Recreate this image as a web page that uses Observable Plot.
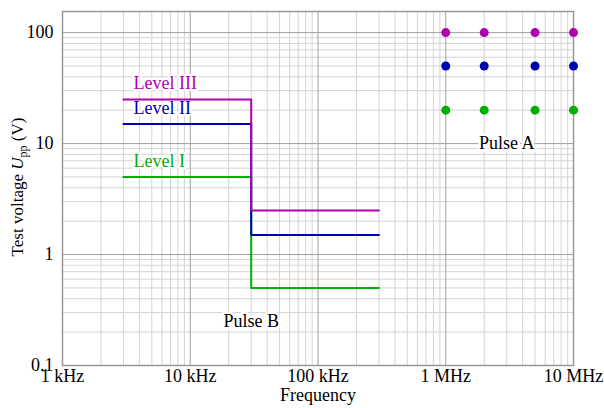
<!DOCTYPE html>
<html>
<head>
<meta charset="utf-8">
<script src="https://cdn.jsdelivr.net/npm/d3@7"></script>
<script src="https://cdn.jsdelivr.net/npm/@observablehq/plot@0.6"></script>
<style>
  html, body { margin: 0; padding: 0; background: #fff; }
  svg text { font-family: "Liberation Serif", "Times New Roman", serif; }
</style>
</head>
<body>
<div id="chart"></div>
<script>
// ---- data ----
const xTicks = [1e3, 1e4, 1e5, 1e6, 1e7];
const xTickLabels = ["1 kHz", "10 kHz", "100 kHz", "1 MHz", "10 MHz"];
const yTicks = [0.1, 1, 10, 100];
const yTickLabels = ["0.1", "1", "10", "100"];

const levels = ["Level I", "Level II", "Level III"];
const levelColors = ["#00b000", "#0000b0", "#b000b0"];

// Pulse B: step profile (frequency breakpoints, high and low voltages per level)
const pulseBStart = 3e3;
const pulseBStep = 3e4;
const pulseBEnd = 3e5;
const pulseBHigh = [5, 15, 25];
const pulseBLow = [0.5, 1.5, 2.5];

// Pulse A: discrete test points
const pulseAFreq = [1e6, 2e6, 5e6, 1e7];
const pulseAVolt = [20, 50, 100];

// annotation anchors (data coordinates)
const levelLabelFreq = 3600;
const levelLabelVolt = [6.9, 21, 34.7];
const pulseLabels = [
  {text: "Pulse A", f: 3e6, v: 10},
  {text: "Pulse B", f: 3e4, v: 0.25}
];

// ---- derived tables ----
const stepRows = levels.flatMap((lv, i) => [
  {level: lv, i, f: pulseBStart, v: pulseBHigh[i]},
  {level: lv, i, f: pulseBStep, v: pulseBHigh[i]},
  {level: lv, i, f: pulseBStep, v: pulseBLow[i]},
  {level: lv, i, f: pulseBEnd, v: pulseBLow[i]}
]);
const dotRows = levels.flatMap((lv, i) => pulseAFreq.map(f => ({level: lv, i, f, v: pulseAVolt[i]})));
const labelRows = levels.map((lv, i) => ({text: lv, i, f: levelLabelFreq, v: levelLabelVolt[i]}));

const minorX = [];
for (let d = 1e3; d < 1e7; d *= 10) for (let k = 2; k <= 9; k++) minorX.push(d * k);
const minorY = [];
for (let d = 0.1; d < 150; d *= 10) for (let k = 2; k <= 9; k++) if (d * k <= 155) minorY.push(d * k);

const colorOf = i => levelColors[i];
const xFmt = d => xTickLabels[Math.round(Math.log10(d)) - 3];
const yFmt = d => yTickLabels[Math.round(Math.log10(d)) + 1];
const FONT = "Liberation Serif, Times New Roman, serif";

const svg = Plot.plot({
  width: 604,
  height: 408,
  marginLeft: 62,
  marginRight: 31,
  marginTop: 11,
  marginBottom: 43,
  style: {fontFamily: FONT, fontSize: "18px", background: "#fff", color: "#000"},
  x: {type: "log", domain: [1e3, 1e7], ticks: xTicks, tickFormat: xFmt, tickSize: 0, tickPadding: 4, label: null},
  y: {type: "log", domain: [0.1, 155], ticks: yTicks, tickFormat: yFmt, tickSize: 0, tickPadding: 9, label: null},
  marks: [
    Plot.ruleX(minorX, {stroke: "#d4d4d4", strokeWidth: 1}),
    Plot.ruleY(minorY, {stroke: "#d4d4d4", strokeWidth: 1}),
    Plot.ruleX(xTicks, {stroke: "#a0a0a0", strokeWidth: 1}),
    Plot.ruleY(yTicks, {stroke: "#a0a0a0", strokeWidth: 1}),
    Plot.frame({stroke: "#999", strokeWidth: 1.5}),
    Plot.text(labelRows, {x: "f", y: "v", text: "text", textAnchor: "start", fontFamily: FONT, fontSize: 18, fill: d => colorOf(d.i), stroke: "white", strokeWidth: 4}),
    Plot.line(stepRows, {x: "f", y: "v", z: "level", stroke: d => colorOf(d.i), strokeWidth: 2, curve: "linear"}),
    Plot.dot(dotRows, {x: "f", y: "v", r: 4.5, fill: d => colorOf(d.i), stroke: "none"}),
    Plot.text(pulseLabels, {x: "f", y: "v", text: "text", fontFamily: FONT, fontSize: 18, fill: "#000", stroke: "white", strokeWidth: 5}),
    Plot.text(["Frequency"], {frameAnchor: "bottom", dy: 35, fontFamily: FONT, fontSize: 18, fill: "#000"})
  ]
});

// y-axis label with italic U and subscript pp
const g = d3.select(svg).append("text")
  .attr("transform", "translate(23,187) rotate(-90)")
  .attr("text-anchor", "middle")
  .attr("fill", "#000")
  .style("font-family", FONT)
  .style("font-size", "17px");
g.append("tspan").text("Test voltage ");
g.append("tspan").attr("font-style", "italic").text("U");
g.append("tspan").attr("font-size", "12px").attr("dy", "4").text("pp");
g.append("tspan").attr("dy", "-4").text(" (V)");

document.getElementById("chart").appendChild(svg);
</script>
</body>
</html>
